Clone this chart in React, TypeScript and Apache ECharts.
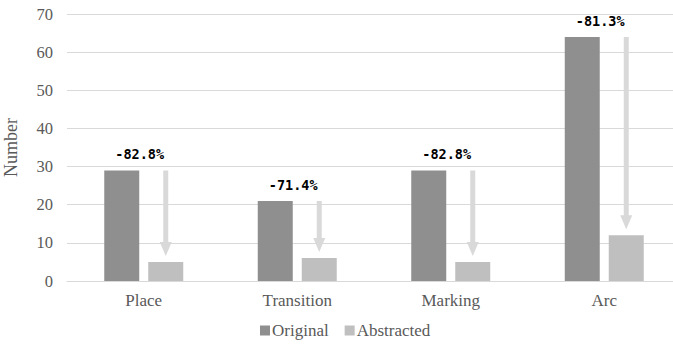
import React, { useEffect, useRef } from "react";
import * as echarts from "echarts";

const categories = ["Place", "Transition", "Marking", "Arc"];
const originalValues = [29, 21, 29, 64];
const abstractedValues = [5, 6, 5, 12];
const changeLabels = ["-82.8%", "-71.4%", "-82.8%", "-81.3%"];
const yTicks = [0, 10, 20, 30, 40, 50, 60, 70];

const SERIF = "Liberation Serif";
const BAR_W = 35;
const GAP = 9;

export default function App() {
  const ref = useRef<HTMLDivElement>(null);
  useEffect(() => {
    if (!ref.current) return;
    const chart = echarts.init(ref.current, null, { renderer: "svg" });
    const offset = (BAR_W + GAP) / 2;
    const arrowData = categories.map((_, i) => [i, originalValues[i], abstractedValues[i], changeLabels[i]]);
    chart.setOption({
      animation: false,
      textStyle: { fontFamily: SERIF },
      grid: { left: 67, top: 14, width: 614, height: 267, outerBoundsMode: "none", containLabel: false },
      legend: {
        bottom: 3,
        left: 255,
        icon: "rect",
        itemWidth: 10,
        itemHeight: 10,
        itemGap: 16,
        data: ["Original", "Abstracted"],
        textStyle: { fontFamily: SERIF, fontSize: 17, color: "#595959", padding: [0, 0, 0, -3] },
      },
      xAxis: {
        type: "category",
        data: categories,
        axisLine: { lineStyle: { color: "#d9d9d9" } },
        axisTick: { show: false },
        axisLabel: { fontFamily: SERIF, fontSize: 17, color: "#595959", margin: 11 },
      },
      yAxis: {
        type: "value",
        min: yTicks[0],
        max: yTicks[yTicks.length - 1],
        interval: 10,
        name: "Number",
        nameLocation: "middle",
        nameGap: 47,
        nameRotate: 90,
        nameTextStyle: { fontFamily: SERIF, fontSize: 18, color: "#595959" },
        axisLine: { show: false },
        axisTick: { show: false },
        axisLabel: { fontFamily: SERIF, fontSize: 16.5, color: "#595959", margin: 14 },
        splitLine: { lineStyle: { color: "#d9d9d9" } },
      },
      series: [
        {
          name: "Original",
          type: "bar",
          data: originalValues,
          barWidth: BAR_W,
          barGap: (GAP / BAR_W) * 100 + "%",
          itemStyle: { color: "#8f8f8f" },
        },
        {
          name: "Abstracted",
          type: "bar",
          data: abstractedValues,
          barWidth: BAR_W,
          itemStyle: { color: "#bfbfbf" },
        },
        {
          type: "custom",
          data: arrowData,
          encode: { x: 0, y: 1 },
          z: 5,
          renderItem: (params: any, api: any) => {
            const i = api.value(0);
            const top = api.coord([i, api.value(1)]);
            const bot = api.coord([i, api.value(2)]);
            const cx = top[0] + offset;
            const y0 = top[1];
            const tip = bot[1] - 6;
            const yh = tip - 14;
            const label = arrowData[params.dataIndex][3] as string;
            return {
              type: "group",
              children: [
                {
                  type: "polygon",
                  shape: {
                    points: [
                      [cx - 2.5, y0],
                      [cx + 2.5, y0],
                      [cx + 2.5, yh],
                      [cx + 6, yh],
                      [cx, tip],
                      [cx - 6, yh],
                      [cx - 2.5, yh],
                    ],
                  },
                  style: { fill: "#d9d9d9" },
                },
                {
                  type: "text",
                  x: top[0] - 4,
                  y: y0 - 16,
                  style: {
                    text: label,
                    fontFamily: "DejaVu Sans Mono",
                    fontWeight: "bold",
                    fontSize: 13.5,
                    fill: "#000",
                    align: "center",
                    verticalAlign: "middle",
                  },
                },
              ],
            };
          },
        },
      ],
    });
    return () => chart.dispose();
  }, []);
  return (
    <div
      ref={ref}
      style={{ position: "fixed", left: 0, top: 0, width: 673, height: 347, background: "#fff" }}
    />
  );
}
